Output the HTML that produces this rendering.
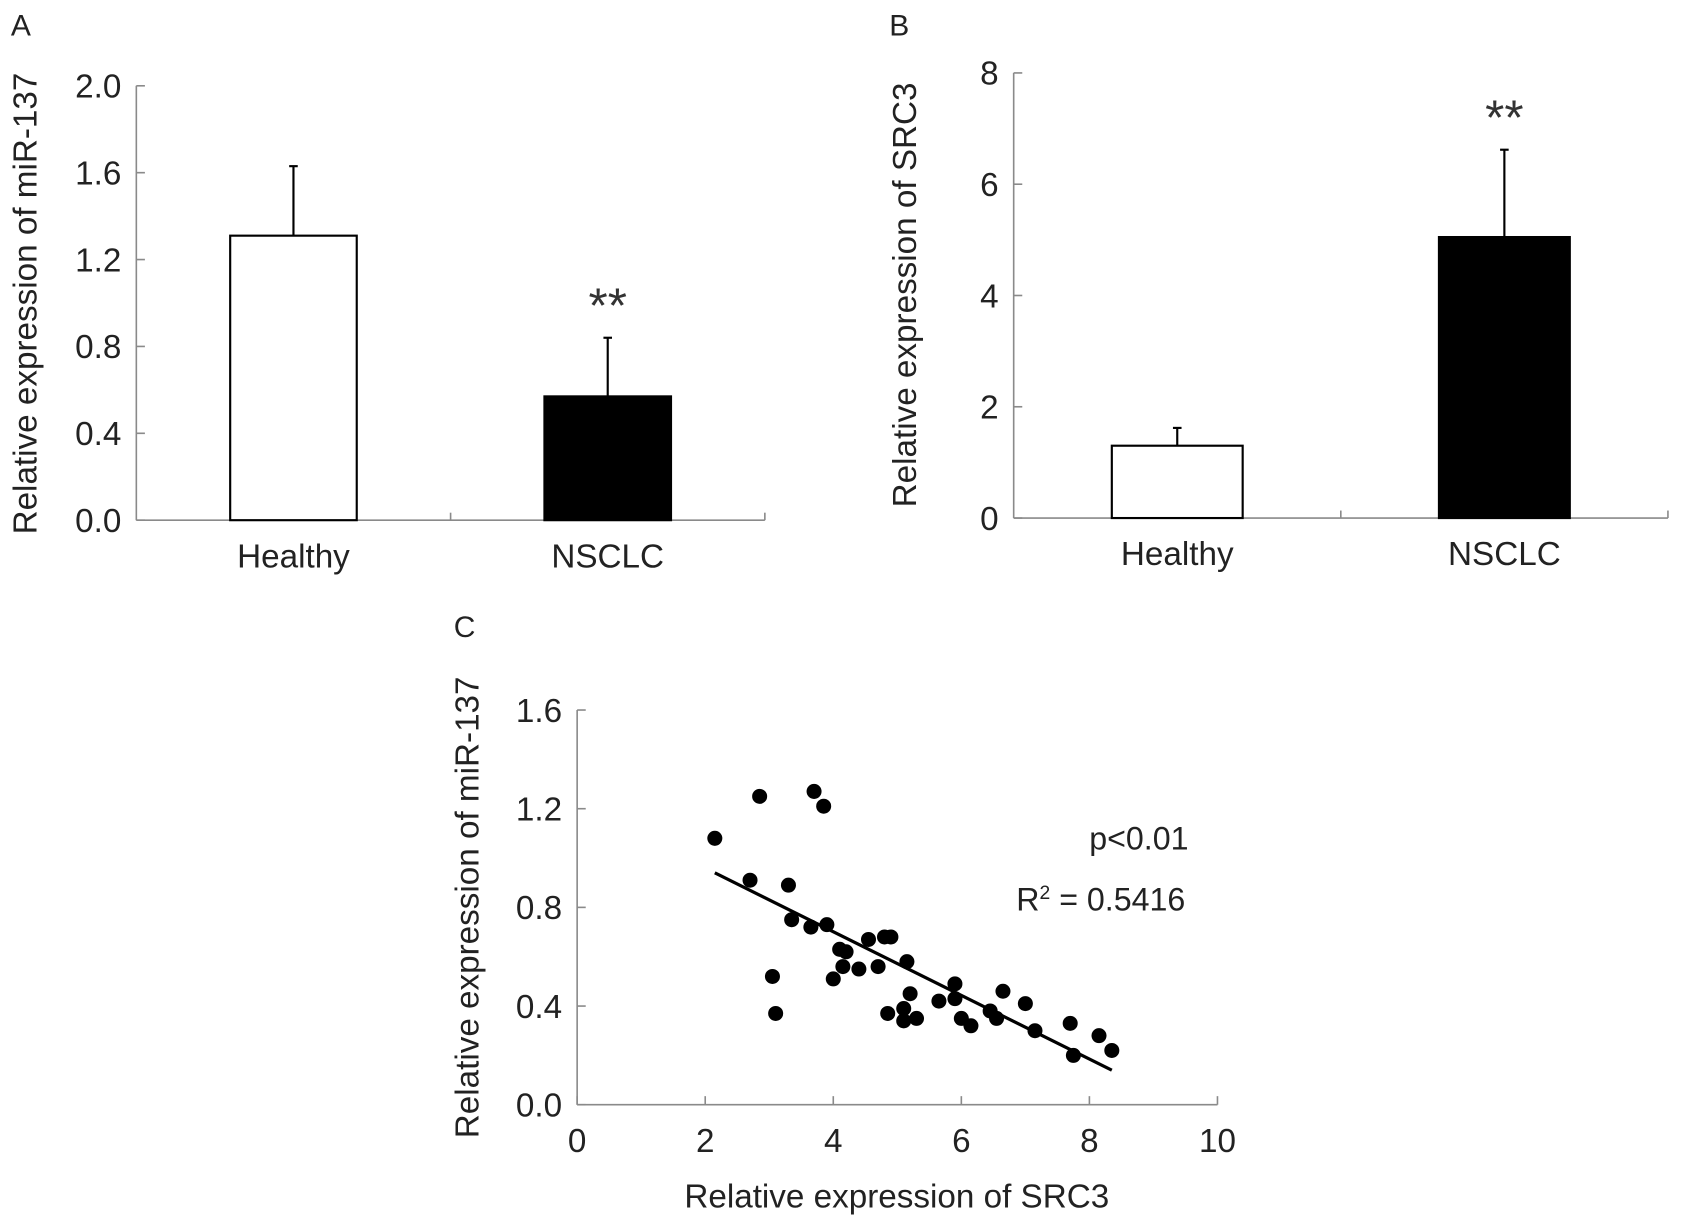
<!DOCTYPE html>
<html><head><meta charset="utf-8"><style>
html,body{margin:0;padding:0;background:#fff;}
svg{display:block;font-family:"Liberation Sans",Arial,sans-serif;}
</style></head><body>
<svg id="fig" width="1682" height="1227" viewBox="0 0 1568 1144" xmlns="http://www.w3.org/2000/svg"></svg>
<script>
const catsA=["Healthy","NSCLC"];
const meansA=[1.31,0.57];
const errA=[0.32,0.27];
const ticksA=[0,0.4,0.8,1.2,1.6,2.0];
const catsB=["Healthy","NSCLC"];
const meansB=[1.3,5.05];
const errB=[0.32,1.57];
const ticksB=[0,2,4,6,8];
const scX=[2.15,2.7,2.85,3.05,3.1,3.3,3.35,3.65,3.7,3.85,3.9,4.0,4.1,4.15,4.2,4.4,4.55,4.7,4.8,4.85,4.9,5.1,5.1,5.15,5.2,5.3,5.65,5.9,5.9,6.0,6.15,6.45,6.55,6.65,7.0,7.15,7.7,7.75,8.15,8.35];
const scY=[1.08,0.91,1.25,0.52,0.37,0.89,0.75,0.72,1.27,1.21,0.73,0.51,0.63,0.56,0.62,0.55,0.67,0.56,0.68,0.37,0.68,0.39,0.34,0.58,0.45,0.35,0.42,0.49,0.43,0.35,0.32,0.38,0.35,0.46,0.41,0.30,0.33,0.20,0.28,0.22];
const fitX=[2.15,8.35];
const fitY=[0.94,0.14];
const ticksCX=[0,2,4,6,8,10];
const ticksCY=[0,0.4,0.8,1.2,1.6];

const svg=document.getElementById('fig');
const NS="http://www.w3.org/2000/svg";
function el(tag,attrs,parent){const e=document.createElementNS(NS,tag);for(const k in attrs)e.setAttribute(k,attrs[k]);(parent||svg).appendChild(e);return e;}
function txt(s,attrs,parent){const t=el('text',attrs,parent);t.textContent=s;return t;}
const AX="#8a8a8a";
const TF=31, TK=31;

function barPanel(o){
  const g=el('g',{});
  
  
  const ys=v=>o.y0-(v-o.ymin)/(o.ymax-o.ymin)*(o.y0-o.y1);
  const lab=txt(o.letter,{x:o.lx,y:o.ly,'font-size':28,fill:'#222'},g);
  
  const ya=el('line',{x1:o.ax,y1:o.y1,x2:o.ax,y2:o.y0,stroke:AX,'stroke-width':1.5},g);
  
  const xa=el('line',{x1:o.ax,y1:o.y0,x2:o.xend,y2:o.y0,stroke:AX,'stroke-width':1.5},g);
  
  const mid=(o.ax+o.xend)/2;
  [mid,o.xend].forEach(x=>el('line',{x1:x,y1:o.y0,x2:x,y2:o.y0-7,stroke:AX,'stroke-width':1.5},g));
  o.ticks.forEach(t=>{
    const y=ys(t);
    el('line',{x1:o.ax,y1:y,x2:o.ax+8,y2:y,stroke:AX,'stroke-width':1.5},g);
    const tl=txt(o.fmt(t),{x:o.ax-14,y:y+11,'font-size':TK,'text-anchor':'end',fill:'#222'},g);
    
  });
  const slot=(o.xend-o.ax)/o.cats.length;
  o.cats.forEach((c,i)=>{
    const cx=o.ax+slot*(i+0.5);
    const top=ys(o.means[i]);
    const et=ys(o.means[i]+o.errs[i]);
    const eb=el('line',{x1:cx,y1:top,x2:cx,y2:et,stroke:'#000','stroke-width':2},g);
    
    el('line',{x1:cx-4,y1:et,x2:cx+4,y2:et,stroke:'#000','stroke-width':2},g);
    const r=el('rect',{x:cx-o.bw/2,y:top,width:o.bw,height:o.y0-top,fill:i?'#000':'#fff',stroke:'#000','stroke-width':2},g);
    
    const cl=txt(c,{x:cx,y:o.y0+44,'font-size':TF,'text-anchor':'middle',fill:'#222'},g);
    
    if(i===1){const s=txt('**',{x:cx,y:et-14,'font-size':46,'text-anchor':'middle',fill:'#333'},g);
      }
  });
  const yt=txt(o.ytitle,{x:0,y:0,'font-size':TF,'text-anchor':'middle',fill:'#222',transform:`translate(${o.tx},${o.ty}) rotate(-90)`},g);
  
}
barPanel({name:'panel-a',letter:'A',lx:10,ly:33,ax:127,xend:713,y0:485,y1:80,ymin:0,ymax:2,ticks:ticksA,fmt:t=>t.toFixed(1),cats:catsA,means:meansA,errs:errA,bw:118,ytitle:'Relative expression of miR-137',tx:34,ty:283});
barPanel({name:'panel-b',letter:'B',lx:829,ly:33,ax:945,xend:1555,y0:483,y1:68,ymin:0,ymax:8,ticks:ticksB,fmt:t=>String(t),cats:catsB,means:meansB,errs:errB,bw:122,ytitle:'Relative expression of SRC3',tx:854,ty:275});

// Panel C
const gc=el('g',{});


const cx0=538,cx1=1135,cy0=1030,cy1=662;
const xs=v=>cx0+v/10*(cx1-cx0);
const ys=v=>cy0-v/1.6*(cy0-cy1);
const lc=txt('C',{x:423,y:594,'font-size':28,fill:'#222'},gc);

const cya=el('line',{x1:cx0,y1:cy1,x2:cx0,y2:cy0,stroke:AX,'stroke-width':1.5},gc);

const cxa=el('line',{x1:cx0,y1:cy0,x2:cx1,y2:cy0,stroke:AX,'stroke-width':1.5},gc);

ticksCY.forEach(t=>{const y=ys(t);
  el('line',{x1:cx0,y1:y,x2:cx0+8,y2:y,stroke:AX,'stroke-width':1.5},gc);
  const l=txt(t.toFixed(1),{x:cx0-14,y:y+11,'font-size':TK,'text-anchor':'end',fill:'#222'},gc);
  });
ticksCX.forEach(t=>{const x=xs(t);
  el('line',{x1:x,y1:cy0,x2:x,y2:cy0-8,stroke:AX,'stroke-width':1.5},gc);
  const l=txt(String(t),{x:x,y:cy0+44,'font-size':TK,'text-anchor':'middle',fill:'#222'},gc);
  });
scX.forEach((v,i)=>{const c=el('circle',{cx:xs(v),cy:ys(scY[i]),r:7,fill:'#000'},gc);
  });
const fl=el('line',{x1:xs(fitX[0]),y1:ys(fitY[0]),x2:xs(fitX[1]),y2:ys(fitY[1]),stroke:'#000','stroke-width':3},gc);

const pv=txt('p<0.01',{x:1108,y:792,'font-size':30,'text-anchor':'end',fill:'#222'},gc);

const rt=el('text',{x:1105,y:849,'font-size':30,'text-anchor':'end',fill:'#222'},gc);

rt.innerHTML='R<tspan font-size="18" dy="-11">2</tspan><tspan dy="11"> = 0.5416</tspan>';
const xt=txt('Relative expression of SRC3',{x:836,y:1126,'font-size':TF,'text-anchor':'middle',fill:'#222'},gc);

const yt=txt('Relative expression of miR-137',{x:0,y:0,'font-size':TF,'text-anchor':'middle',fill:'#222',transform:'translate(446,846) rotate(-90)'},gc);

</script>
</body></html>
